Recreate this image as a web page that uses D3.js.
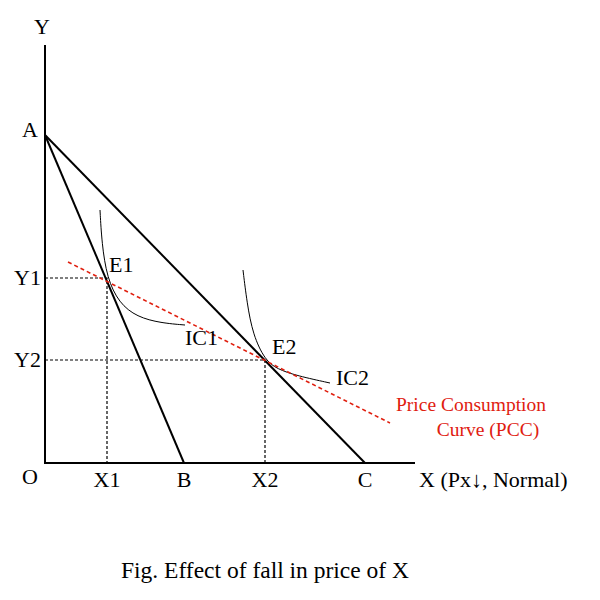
<!DOCTYPE html>
<html><head><meta charset="utf-8">
<script src="https://cdn.jsdelivr.net/npm/d3@7"></script>
<style>body{margin:0;background:#fff}text{font-family:"Liberation Serif","Times New Roman",serif}</style>
</head><body><svg id="c" width="600" height="600"></svg>
<script>
const A=[0,82], B=[34.75,0], C=[80,0];
const E1=[15.5,46.25], E2=[55,25.75];
const pcc=[[5.75,50.25],[86.25,10]];
const ic1=[[13.75,63.25],[14.2,55],[15.5,46.25],[18.5,40],[23,36.5],[29,35],[35,34.5]];
const ic2=[[49.5,48.25],[50.5,40],[52,32],[55,25.75],[58,23.5],[63,21.8],[71.25,20]];
const xTicks=[["X1",E1[0]],["B",B[0]],["X2",E2[0]],["C",C[0]]];
const yTicks=[["Y1",E1[1]],["Y2",E2[1]]];

const svg=d3.select("#c");
const x=d3.scaleLinear().domain([0,100]).range([45,445]);
const y=d3.scaleLinear().domain([0,100]).range([463,63]);
const L=d3.line().x(d=>x(d[0])).y(d=>y(d[1]));
const S=d3.line().x(d=>x(d[0])).y(d=>y(d[1])).curve(d3.curveBasis);
const g=svg.append("g");
g.append("path").attr("d",L([[0,104.5],[0,0],[92.5,0]])).attr("fill","none").attr("stroke","#000").attr("stroke-width",2);
[E1,E2].forEach(e=>{
 g.append("path").attr("d",L([[0,e[1]],e,[e[0],0]])).attr("fill","none").attr("stroke","#000").attr("stroke-width",1.2).attr("stroke-dasharray","3,2");
});
g.append("path").attr("d",L([A,B])).attr("stroke","#000").attr("stroke-width",2);
g.append("path").attr("d",L([A,C])).attr("stroke","#000").attr("stroke-width",2);
g.append("path").attr("d",S(ic1)).attr("fill","none").attr("stroke","#000").attr("stroke-width",1);
g.append("path").attr("d",S(ic2)).attr("fill","none").attr("stroke","#000").attr("stroke-width",1);
g.append("path").attr("d",L(pcc)).attr("stroke","#e02010").attr("stroke-width",1.6).attr("stroke-dasharray","4,3");
const T=(t,px,py,o={})=>svg.append("text").attr("x",px).attr("y",py).attr("font-size",o.s||22).attr("fill",o.c||"#000").attr("text-anchor",o.a||"start").text(t);
T("Y",34,34);T("A",22,137);T("O",22,484);
yTicks.forEach(([t,v])=>T(t,41,y(v)+7,{a:"end"}));
xTicks.forEach(([t,v])=>T(t,x(v),487,{a:"middle"}));
T("X (Px↓, Normal)",419,487);
T("E1",109,272);T("E2",272,354);T("IC1",185,345);T("IC2",336,385);
T("Price Consumption",471,411,{a:"middle",s:19.5,c:"#e02010"});
T("Curve (PCC)",488,436,{a:"middle",s:19.5,c:"#e02010"});
T("Fig. Effect of fall in price of X",265,578,{a:"middle",s:23.5});
</script></body></html>
